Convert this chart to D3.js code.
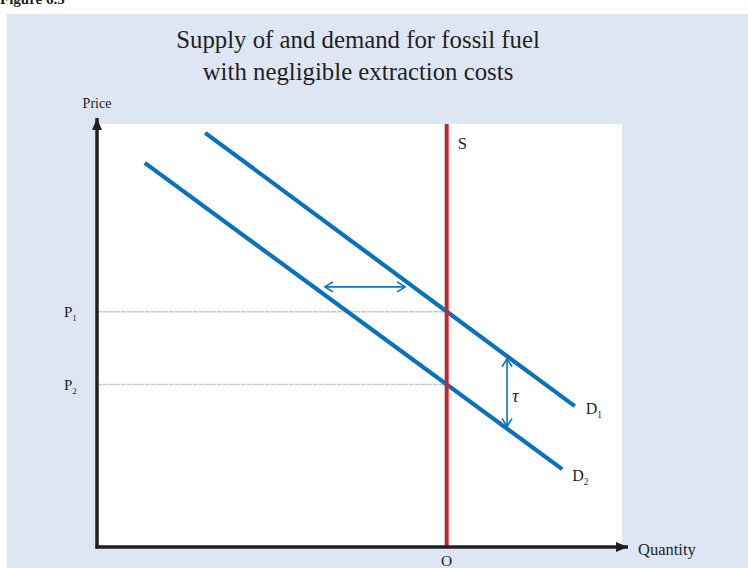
<!DOCTYPE html>
<html>
<head>
<meta charset="utf-8">
<script src="https://cdn.jsdelivr.net/npm/d3@7"></script>
<style>
  body { margin: 0; background: #fff; }
  svg text { font-family: "Liberation Serif", "Times New Roman", serif; fill: #231f20; }
</style>
</head>
<body>
<div id="chart"></div>
<script>
// curve end points, in abstract quantity / price units
var demand1 = [{q: 2.06, p: 9.79}, {q: 9.10, p: 3.33}];
var demand2 = [{q: 0.91, p: 9.08}, {q: 8.86, p: 1.84}];
var supplyQ = 6.66;
var priceLevels = [{name: "P", sub: "1", p: 5.56}, {name: "P", sub: "2", p: 3.84}];
var shiftArrow = [{q: 4.34, p: 6.15}, {q: 5.87, p: 6.15}];
var taxArrow = [{q: 7.81, p: 4.45}, {q: 7.81, p: 2.85}];
var titleLines = ["Supply of and demand for fossil fuel", "with negligible extraction costs"];

var width = 748, height = 568;
var blue = "#0b72b9", red = "#c1272d";

var svg = d3.select("#chart").append("svg")
    .attr("width", width)
    .attr("height", height);

// marker defs
var defs = svg.append("defs");
defs.append("marker")
    .attr("id", "solid-head")
    .attr("viewBox", "0 0 12 10")
    .attr("refX", 12).attr("refY", 5)
    .attr("markerWidth", 12).attr("markerHeight", 10)
    .attr("markerUnits", "userSpaceOnUse")
    .attr("orient", "auto-start-reverse")
    .append("path")
    .attr("d", "M0,0 L12,5 L0,10 Z")
    .attr("fill", "#231f20");

defs.append("marker")
    .attr("id", "open-head")
    .attr("viewBox", "0 0 10 12")
    .attr("refX", 9).attr("refY", 6)
    .attr("markerWidth", 10).attr("markerHeight", 12)
    .attr("markerUnits", "userSpaceOnUse")
    .attr("orient", "auto-start-reverse")
    .append("path")
    .attr("d", "M1,1 L9,6 L1,11")
    .attr("fill", "none")
    .attr("stroke", blue)
    .attr("stroke-width", 1.6);

// figure number, mostly cropped off the top like the source
svg.append("text")
    .attr("x", 0).attr("y", 4)
    .attr("font-size", 15)
    .attr("font-weight", "bold")
    .text("Figure 6.5");

// background panel
svg.append("rect")
    .attr("x", 7).attr("y", 14)
    .attr("width", width - 7).attr("height", height - 14)
    .attr("fill", "#dfe6f3");

var margin = {top: 124, right: 126, bottom: 21, left: 97};
var x = d3.scaleLinear().domain([0, 10]).range([margin.left, width - margin.right]);
var y = d3.scaleLinear().domain([0, 10]).range([height - margin.bottom, margin.top]);

// white plot area
svg.append("rect")
    .attr("x", x(0)).attr("y", y(10))
    .attr("width", x(10) - x(0)).attr("height", y(0) - y(10))
    .attr("fill", "#fff");

// title
svg.append("g").selectAll("text")
    .data(titleLines)
    .enter().append("text")
    .attr("x", 358)
    .attr("y", function(d, i) { return 48 + i * 32; })
    .attr("text-anchor", "middle")
    .attr("font-size", 24.8)
    .text(function(d) { return d; });

// price reference lines
svg.append("g").selectAll("line")
    .data(priceLevels)
    .enter().append("line")
    .attr("x1", x(0)).attr("x2", x(supplyQ))
    .attr("y1", function(d) { return y(d.p); })
    .attr("y2", function(d) { return y(d.p); })
    .attr("stroke", "#c8c8c8")
    .attr("stroke-width", 1.5)
    .attr("stroke-dasharray", "5,1");

var pLabels = svg.append("g").selectAll("text")
    .data(priceLevels)
    .enter().append("text")
    .attr("x", 64)
    .attr("y", function(d) { return y(d.p) + 5; })
    .attr("font-size", 15);
pLabels.append("tspan").text(function(d) { return d.name; });
pLabels.append("tspan").attr("dy", 4).attr("font-size", 9).text(function(d) { return d.sub; });

// demand curves
var line = d3.line()
    .x(function(d) { return x(d.q); })
    .y(function(d) { return y(d.p); });

svg.append("g").selectAll("path")
    .data([demand1, demand2])
    .enter().append("path")
    .attr("d", line)
    .attr("fill", "none")
    .attr("stroke", blue)
    .attr("stroke-width", 4.2);

// supply
svg.append("line")
    .attr("x1", x(supplyQ)).attr("x2", x(supplyQ))
    .attr("y1", y(10)).attr("y2", y(0))
    .attr("stroke", red)
    .attr("stroke-width", 4);

// arrows
svg.append("g").selectAll("path")
    .data([shiftArrow, taxArrow])
    .enter().append("path")
    .attr("d", line)
    .attr("fill", "none")
    .attr("stroke", blue)
    .attr("stroke-width", 1.6)
    .attr("marker-start", "url(#open-head)")
    .attr("marker-end", "url(#open-head)");

// axes
svg.append("path")
    .attr("d", "M" + x(0) + "," + (y(0) + 1.5) + "V" + (y(10) - 6))
    .attr("stroke", "#231f20").attr("stroke-width", 3.5)
    .attr("marker-end", "url(#solid-head)");
svg.append("path")
    .attr("d", "M" + (x(0) - 1.5) + "," + y(0) + "H" + (x(10) + 6))
    .attr("stroke", "#231f20").attr("stroke-width", 3.5)
    .attr("marker-end", "url(#solid-head)");

// labels
svg.append("text").attr("x", x(0)).attr("y", 108)
    .attr("text-anchor", "middle").attr("font-size", 14).text("Price");
svg.append("text").attr("x", 638).attr("y", 555)
    .attr("font-size", 16.5).text("Quantity");
svg.append("text").attr("x", x(supplyQ)).attr("y", 566)
    .attr("text-anchor", "middle").attr("font-size", 15.5).text("O");
svg.append("text").attr("x", x(supplyQ) + 11).attr("y", 149)
    .attr("font-size", 16.5).text("S");
svg.append("text").attr("x", x(taxArrow[0].q) + 5).attr("y", 402)
    .attr("font-size", 19).attr("font-style", "italic").text("τ");

var dLabels = svg.append("g").selectAll("text")
    .data([{sub: "1", q: demand1[1].q, p: demand1[1].p, dx: 11, dy: 8},
           {sub: "2", q: demand2[1].q, p: demand2[1].p, dx: 10, dy: 12}])
    .enter().append("text")
    .attr("x", function(d) { return x(d.q) + d.dx; })
    .attr("y", function(d) { return y(d.p) + d.dy; })
    .attr("font-size", 16);
dLabels.append("tspan").text("D");
dLabels.append("tspan").attr("dy", 4).attr("font-size", 9.5).text(function(d) { return d.sub; });
</script>
</body>
</html>
